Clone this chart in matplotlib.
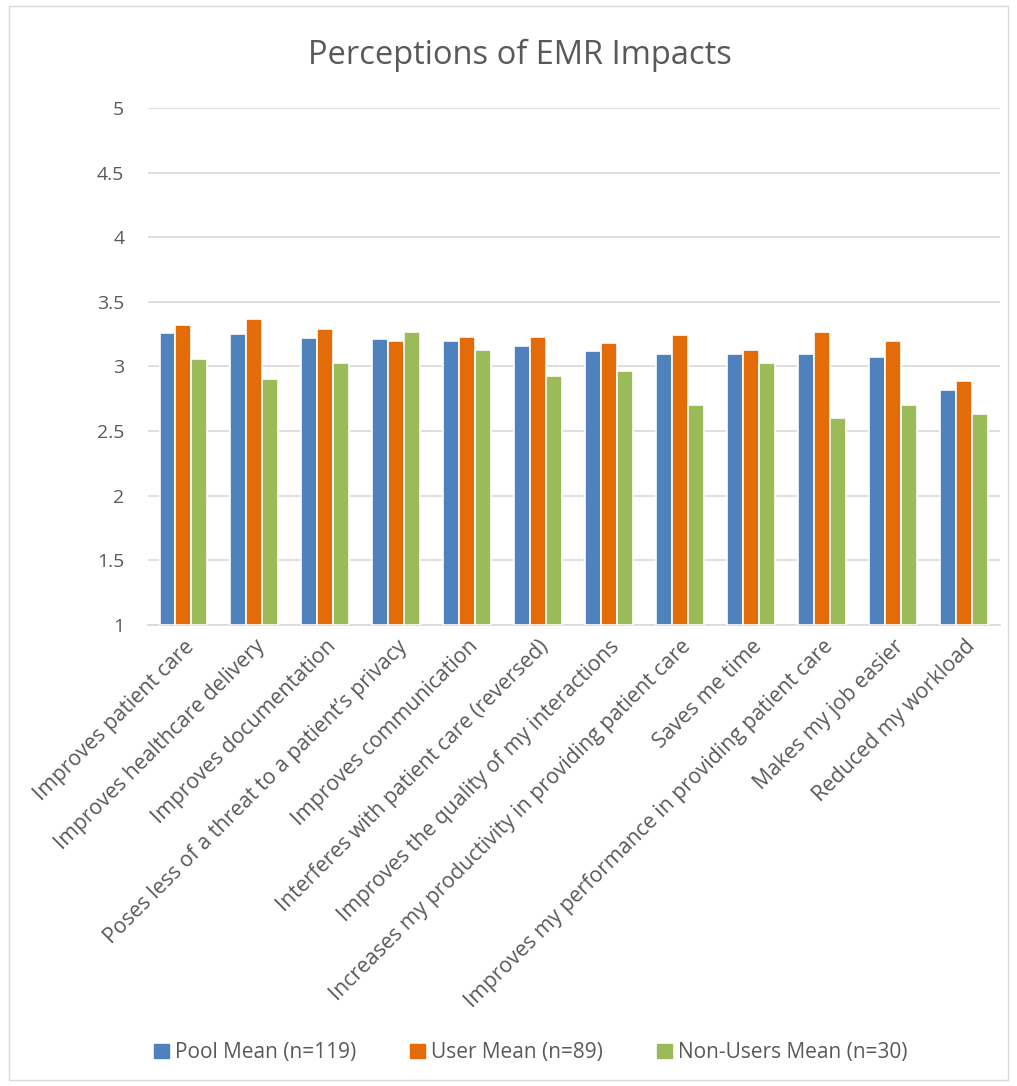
import matplotlib.pyplot as plt
import numpy as np
from matplotlib.patches import Rectangle

categories = ['Improves patient care', 'Improves healthcare delivery', 'Improves documentation',
              'Poses less of a threat to a patient\u2019s privacy', 'Improves communication',
              'Interferes with patient care (reversed)', 'Improves the quality of my interactions',
              'Increases my productivity in providing patient care', 'Saves me time',
              'Improves my performance in providing patient care', 'Makes my job easier',
              'Reduced my workload']
pool_mean = [3.26, 3.25, 3.22, 3.21, 3.20, 3.155, 3.12, 3.10, 3.10, 3.095, 3.07, 2.82]
user_mean = [3.32, 3.37, 3.29, 3.195, 3.23, 3.23, 3.18, 3.24, 3.13, 3.27, 3.195, 2.885]
nonuser_mean = [3.06, 2.90, 3.03, 3.27, 3.13, 2.93, 2.965, 2.70, 3.03, 2.60, 2.70, 2.63]
series_names = ['Pool Mean (n=119)', 'User Mean (n=89)', 'Non-Users Mean (n=30)']
colors = ['#4f81bd', '#e36c09', '#9bbb59']

plt.rcParams['font.family'] = ['Open Sans', 'DejaVu Sans']
txt = '#595959'

fig = plt.figure(figsize=(10.17, 10.86), dpi=100)
ax = fig.add_axes([0.1455, 0.4245, 0.8375, 0.4761])

x = np.arange(len(categories))
step = 0.225
for i, (vals, name, c) in enumerate(zip([pool_mean, user_mean, nonuser_mean], series_names, colors)):
    ax.bar(x + (i - 1) * step, np.array(vals) - 1, width=step, bottom=1, color=c,
           edgecolor='white', linewidth=1.2, label=name, zorder=3)

ax.set_xlim(-0.5, len(categories) - 0.5)
ax.set_ylim(1, 5)
ax.set_yticks([1, 1.5, 2, 2.5, 3, 3.5, 4, 4.5, 5])
ax.set_yticklabels(['1', '1.5', '2', '2.5', '3', '3.5', '4', '4.5', '5'])
ax.yaxis.grid(True, color='#d9d9d9', linewidth=1.2, zorder=0)
ax.set_axisbelow(True)
for s in ['left', 'right', 'top']:
    ax.spines[s].set_visible(False)
ax.spines['bottom'].set_color('#d9d9d9')
ax.spines['bottom'].set_linewidth(1.2)
ax.tick_params(axis='y', length=0, pad=17, labelsize=14, labelcolor=txt)
ax.tick_params(axis='x', length=0, pad=8, labelsize=15.3, labelcolor=txt)
ax.set_xticks(x)
ax.set_xticklabels(categories, rotation=45, ha='right', rotation_mode='anchor')

fig.text(0.511, 0.9494, 'Perceptions of EMR Impacts', ha='center', va='center',
         fontsize=23.5, color=txt)

handles = [Rectangle((0, 0), 1, 1, color=c) for c in colors]
fig.legend(handles, series_names, loc='center', bbox_to_anchor=(0.522, 0.0304), ncol=3,
           frameon=False, fontsize=15, labelcolor=txt, handlelength=0.7, handleheight=0.7,
           handletextpad=0.3, columnspacing=2.6)

fig.patches.append(Rectangle((9 / 1017, 6 / 1086), 999 / 1017, 1074 / 1086,
                             transform=fig.transFigure, fill=False, edgecolor='#d9d9d9',
                             linewidth=1))

plt.savefig('out.png', dpi=100)
